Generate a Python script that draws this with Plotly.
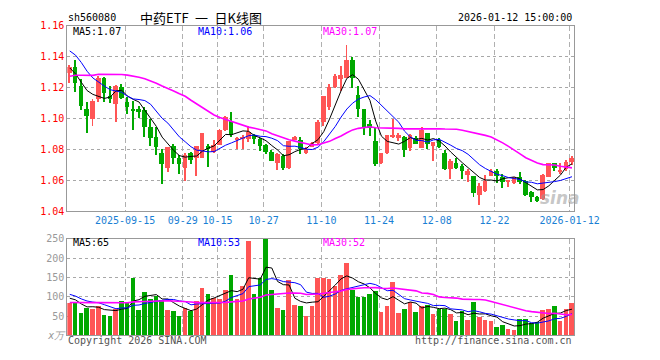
import plotly.graph_objects as go
import pandas as pd

# ---------------- data ----------------
dates = [
    "2025-09-01", "2025-09-02", "2025-09-03", "2025-09-04", "2025-09-05",
    "2025-09-08", "2025-09-09", "2025-09-10", "2025-09-11", "2025-09-12",
    "2025-09-15", "2025-09-16", "2025-09-17", "2025-09-18", "2025-09-19",
    "2025-09-22", "2025-09-23", "2025-09-24", "2025-09-25", "2025-09-26",
    "2025-09-29", "2025-09-30",
    "2025-10-09", "2025-10-10", "2025-10-13", "2025-10-14", "2025-10-15",
    "2025-10-16", "2025-10-17", "2025-10-20", "2025-10-21", "2025-10-22",
    "2025-10-23", "2025-10-24", "2025-10-27", "2025-10-28", "2025-10-29",
    "2025-10-30", "2025-10-31",
    "2025-11-03", "2025-11-04", "2025-11-05", "2025-11-06", "2025-11-07",
    "2025-11-10", "2025-11-11", "2025-11-12", "2025-11-13", "2025-11-14",
    "2025-11-17", "2025-11-18", "2025-11-19", "2025-11-20", "2025-11-21",
    "2025-11-24", "2025-11-25", "2025-11-26", "2025-11-27", "2025-11-28",
    "2025-12-01", "2025-12-02", "2025-12-03", "2025-12-04", "2025-12-05",
    "2025-12-08", "2025-12-09", "2025-12-10", "2025-12-11", "2025-12-12",
    "2025-12-15", "2025-12-16", "2025-12-17", "2025-12-18", "2025-12-19",
    "2025-12-22", "2025-12-23", "2025-12-24", "2025-12-25", "2025-12-26",
    "2025-12-29", "2025-12-30", "2025-12-31",
    "2026-01-05", "2026-01-06", "2026-01-07", "2026-01-08", "2026-01-09",
    "2026-01-12",
]

open_ = [
    1.1298, 1.1333, 1.1213, 1.1065, 1.0998, 1.1131, 1.1267, 1.1148, 1.1098, 1.1208,
    1.1108, 1.1063, 1.1065, 1.1058, 1.0946, 1.0881, 1.0777, 1.0679, 1.0827, 1.0744,
    1.0685, 1.0777, 1.0748, 1.0748, 1.0827, 1.0785, 1.0833, 1.0927, 1.0983, 1.0865,
    1.0869, 1.0869, 1.0896, 1.0869, 1.0829, 1.0785, 1.0715, 1.0760, 1.0683, 1.0865,
    1.0865, 1.0777, 1.0819, 1.0844, 1.0979, 1.1075, 1.1208, 1.1260, 1.1265, 1.1379,
    1.1156, 1.1063, 1.0965, 1.0858, 1.0717, 1.0777, 1.0881, 1.0877, 1.0881, 1.0813,
    1.0875, 1.0813, 1.0906, 1.0827, 1.0865, 1.0781, 1.0677, 1.0715, 1.0698, 1.0635,
    1.0631, 1.0510, 1.0535, 1.0631, 1.0663, 1.0625, 1.0594, 1.0587, 1.0625, 1.0600,
    1.0527, 1.0496, 1.0479, 1.0625, 1.0715, 1.0660, 1.0673, 1.0719,
]
high = [
    1.1350, 1.1383, 1.1258, 1.1108, 1.1129, 1.1279, 1.1270, 1.1210, 1.1217, 1.1227,
    1.1144, 1.1113, 1.1081, 1.1079, 1.0998, 1.0946, 1.0806, 1.0819, 1.0835, 1.0769,
    1.0779, 1.0788, 1.0827, 1.0910, 1.0835, 1.0865, 1.0935, 1.1015, 1.1046, 1.0885,
    1.0894, 1.0954, 1.0900, 1.0875, 1.0838, 1.0800, 1.0777, 1.0775, 1.0858, 1.0888,
    1.0881, 1.0820, 1.0850, 1.0994, 1.1150, 1.1225, 1.1288, 1.1344, 1.1479, 1.1400,
    1.1215, 1.1063, 1.0994, 1.0938, 1.0777, 1.0896, 1.0998, 1.0906, 1.0890, 1.0900,
    1.0890, 1.0944, 1.0910, 1.0850, 1.0875, 1.0800, 1.0740, 1.0745, 1.0705, 1.0677,
    1.0631, 1.0583, 1.0635, 1.0677, 1.0673, 1.0646, 1.0602, 1.0625, 1.0656, 1.0602,
    1.0531, 1.0504, 1.0646, 1.0715, 1.0715, 1.0715, 1.0735, 1.0760,
]
low = [
    1.1229, 1.1175, 1.1060, 1.0908, 1.0952, 1.1106, 1.1108, 1.1102, 1.0979, 1.1129,
    1.1029, 1.0929, 1.1004, 1.0881, 1.0821, 1.0763, 1.0579, 1.0654, 1.0706, 1.0640,
    1.0598, 1.0710, 1.0629, 1.0748, 1.0690, 1.0780, 1.0833, 1.0920, 1.0881, 1.0802,
    1.0806, 1.0848, 1.0838, 1.0792, 1.0771, 1.0725, 1.0669, 1.0670, 1.0673, 1.0860,
    1.0770, 1.0770, 1.0815, 1.0840, 1.0952, 1.1060, 1.1200, 1.1177, 1.1265, 1.1198,
    1.1010, 1.0896, 1.0890, 1.0692, 1.0710, 1.0775, 1.0875, 1.0858, 1.0756, 1.0792,
    1.0835, 1.0810, 1.0806, 1.0729, 1.0810, 1.0670, 1.0610, 1.0675, 1.0613, 1.0594,
    1.0496, 1.0444, 1.0525, 1.0631, 1.0583, 1.0552, 1.0558, 1.0580, 1.0580, 1.0500,
    1.0465, 1.0465, 1.0475, 1.0625, 1.0660, 1.0646, 1.0660, 1.0700,
]
close = [
    1.1333, 1.1229, 1.1085, 1.1015, 1.1115, 1.1267, 1.1165, 1.1129, 1.1213, 1.1137,
    1.1079, 1.1056, 1.1046, 1.0948, 1.0877, 1.0815, 1.0710, 1.0815, 1.0748, 1.0710,
    1.0765, 1.0735, 1.0827, 1.0908, 1.0806, 1.0833, 1.0927, 1.1010, 1.0896, 1.0879,
    1.0885, 1.0913, 1.0869, 1.0827, 1.0785, 1.0729, 1.0771, 1.0683, 1.0858, 1.0885,
    1.0802, 1.0802, 1.0844, 1.0979, 1.1146, 1.1208, 1.1277, 1.1285, 1.1379, 1.1265,
    1.1063, 1.0938, 1.0938, 1.0708, 1.0777, 1.0896, 1.0894, 1.0896, 1.0798, 1.0896,
    1.0838, 1.0927, 1.0840, 1.0848, 1.0819, 1.0677, 1.0729, 1.0683, 1.0660, 1.0660,
    1.0521, 1.0567, 1.0600, 1.0660, 1.0629, 1.0594, 1.0600, 1.0625, 1.0594, 1.0506,
    1.0496, 1.0469, 1.0635, 1.0715, 1.0683, 1.0667, 1.0723, 1.0744,
]
# volume in 万 (10k) units
volume = [
    85, 84, 59, 72, 70, 78, 54, 50, 68, 89,
    87, 150, 67, 112, 96, 102, 93, 67, 64, 52,
    72, 64, 89, 124, 108, 98, 96, 119, 157, 95,
    129, 245, 109, 148, 250, 119, 71, 67, 144, 79,
    77, 52, 77, 150, 148, 147, 129, 157, 188, 119,
    100, 100, 107, 115, 62, 77, 140, 59, 69, 86,
    62, 77, 80, 57, 69, 69, 57, 38, 63, 40,
    88, 47, 40, 38, 23, 28, 17, 15, 42, 44,
    33, 36, 67, 69, 78, 38, 69, 84,
]
# sessions before 2025-09-01 (not drawn); estimated from where the MA lines start
prior_close = [
    1.105, 1.108, 1.106, 1.109, 1.107, 1.115, 1.118, 1.120, 1.116, 1.119,
    1.124, 1.127, 1.125, 1.128, 1.126, 1.127, 1.124, 1.128, 1.125, 1.126,
    1.150, 1.156, 1.158, 1.155, 1.154, 1.142, 1.136, 1.128, 1.124,
]
prior_volume = [
    72, 68, 80, 75, 70, 66, 78, 82, 74, 70,
    76, 80, 72, 78, 74, 69, 77, 81, 75, 73,
    129, 132, 126, 98, 95, 105, 112, 110, 68,
]

tick_dates = ["2025-09-15", "2025-09-29", "2025-10-15", "2025-10-27", "2025-11-10",
              "2025-11-24", "2025-12-08", "2025-12-22", "2026-01-12"]
tick_labels = ["2025-09-15", "09-29", "10-15", "10-27", "11-10",
               "11-24", "12-08", "12-22", "2026-01-12"]
price_ticks = [1.04, 1.06, 1.08, 1.10, 1.12, 1.14, 1.16]
vol_ticks = [0, 50, 100, 150, 200, 250]
vol_tick_labels = ["<i>x万</i>", "50", "100", "150", "200", "250"]

price_ma_labels = ["MA5:1.07", "MA10:1.06", "MA30:1.07"]
vol_ma_labels = ["MA5:65", "MA10:53", "MA30:52"]

# ---------------- derived ----------------
n = len(dates)
idx = list(range(n))
npre = len(prior_close)
cs = pd.Series(prior_close + close)
vs = pd.Series(prior_volume + volume, dtype=float)
ma = {w: cs.rolling(w).mean().iloc[npre:].tolist() for w in (5, 10, 30)}
vma = {w: vs.rolling(w).mean().iloc[npre:].tolist() for w in (5, 10, 30)}

RED = "#ff5555"
GREEN = "#00a800"
colors = [RED if c >= o else GREEN for o, c in zip(open_, close)]

W, H = 660, 360
X0, X1 = 70, 597          # plot area, px
MAIN_T, MAIN_B = 20.3, 212.3
VOL_T, VOL_B = 240.7, 340.7
EDGE = 2.5 / 6.0          # gridline sits at a candle's left edge

def px(x):
    return x / W

def py(y):
    return 1 - y / H

MONO = "DejaVu Sans Mono"

fig = go.Figure()

# wicks
fig.add_trace(go.Bar(
    x=idx, base=low, y=[h - l for h, l in zip(high, low)], width=0.17,
    marker=dict(color=colors, line=dict(width=0)), xaxis="x", yaxis="y",
    hoverinfo="skip"))
# bodies
fig.add_trace(go.Bar(
    x=idx, base=[min(o, c) for o, c in zip(open_, close)],
    y=[max(abs(c - o), 0.0006) for o, c in zip(open_, close)], width=0.8,
    marker=dict(color=colors, line=dict(width=0)), xaxis="x", yaxis="y",
    hoverinfo="skip"))

line_styles = [(5, "#000000", 1), (10, "#0000ff", 1), (30, "#ff00ff", 1.6)]
for w, col, lw in line_styles:
    fig.add_trace(go.Scatter(x=idx, y=ma[w], mode="lines",
                             line=dict(color=col, width=lw),
                             xaxis="x", yaxis="y", hoverinfo="skip"))

# volume
fig.add_trace(go.Bar(x=idx, y=volume, width=0.8,
                     marker=dict(color=colors, line=dict(width=0)),
                     xaxis="x2", yaxis="y2", hoverinfo="skip"))
for w, col, lw in line_styles:
    fig.add_trace(go.Scatter(x=idx, y=vma[w], mode="lines",
                             line=dict(color=col, width=lw),
                             xaxis="x2", yaxis="y2", hoverinfo="skip"))

tickvals = [dates.index(d) - EDGE for d in tick_dates]
xrange = [-EDGE, -EDGE + (X1 - X0) / 6.0]

common_x = dict(
    domain=[px(X0), px(X1)], range=xrange, tickvals=tickvals,
    showgrid=True, gridcolor="#b0b0b0", gridwidth=1, griddash="5px,3px",
    showline=True, mirror=True, linecolor="#999999", linewidth=1,
    zeroline=False, ticks="", fixedrange=True,
)
common_y = dict(
    showgrid=True, gridcolor="#a8a8a8", gridwidth=1, griddash="dot",
    showline=True, mirror=True, linecolor="#999999", linewidth=1,
    zeroline=False, ticks="", fixedrange=True,
)

fig.update_layout(
    width=W, height=H, autosize=False,
    margin=dict(l=0, r=0, t=0, b=0),
    paper_bgcolor="white", plot_bgcolor="white",
    showlegend=False, barmode="overlay", bargap=0,
    xaxis=dict(**common_x, anchor="y", ticktext=tick_labels,
               tickfont=dict(family=MONO, size=10, color="#1a7fd4")),
    yaxis=dict(**common_y, anchor="x", domain=[py(MAIN_B), py(MAIN_T)],
               range=[1.04, 1.16], tickvals=price_ticks,
               ticktext=[f"{v:.2f}" for v in price_ticks],
               tickfont=dict(family=MONO, size=10, color="#ff0000")),
    xaxis2=dict(**common_x, anchor="y2", matches="x", showticklabels=False),
    yaxis2=dict(**common_y, anchor="x2", domain=[py(VOL_B), py(VOL_T)],
                range=[0, 250], tickvals=vol_ticks, ticktext=vol_tick_labels,
                tickfont=dict(family=MONO, size=10, color="#999999")),
)

ann = []
def text(x, y, s, color="#000", size=10, xanchor="left", family=MONO, **kw):
    ann.append(dict(x=px(x), y=py(y), xref="paper", yref="paper", text=s,
                    showarrow=False, xanchor=xanchor, yanchor="middle",
                    font=dict(family=family, size=size, color=color, **kw)))

text(69, 12, "sh560080")
text(209, 12, "中药ETF\u2002一\u2002日K线图", size=13, xanchor="center",
     family="Noto Sans CJK SC, DejaVu Sans")
text(597, 12, "2026-01-12 15:00:00", xanchor="right")

ma_cols = ["#000000", "#0000ff", "#ff00ff"]
ma_x = [74, 204, 334]
for s, c, x in zip(price_ma_labels, ma_cols, ma_x):
    text(x, 26.5, s, color=c)
for s, c, x in zip(vol_ma_labels, ma_cols, ma_x):
    text(x, 245, s, color=c)

text(69, 346, "Copyright 2026 SINA.COM", color="#555555")
text(597, 346, "http://finance.sina.com.cn", color="#555555", xanchor="right")
text(582, 199, "sina", color="rgba(150,150,150,0.55)", size=17, xanchor="center",
     family="DejaVu Sans", style="italic", weight="bold")

fig.update_layout(annotations=ann)
fig.write_html(
    "out.html",
    config={"displayModeBar": False, "responsive": False},
    post_script="document.body.style.margin='0';"
                "document.body.style.overflow='hidden';",
)
